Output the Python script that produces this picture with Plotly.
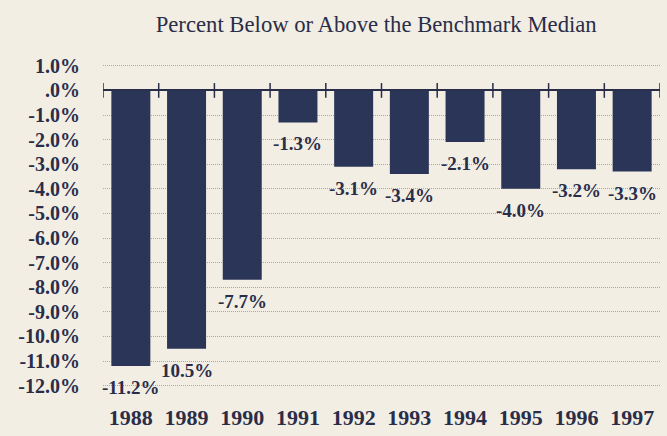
import plotly.graph_objects as go

years = ["1988", "1989", "1990", "1991", "1992", "1993", "1994", "1995", "1996", "1997"]
values = [-11.2, -10.5, -7.7, -1.3, -3.1, -3.4, -2.1, -4.0, -3.2, -3.3]
bar_labels = ["-11.2%", "10.5%", "-7.7%", "-1.3%", "-3.1%", "-3.4%", "-2.1%", "-4.0%", "-3.2%", "-3.3%"]
y_tick_vals = [1, 0, -1, -2, -3, -4, -5, -6, -7, -8, -9, -10, -11, -12]
y_tick_text = ["1.0%", ".0%", "-1.0%", "-2.0%", "-3.0%", "-4.0%", "-5.0%", "-6.0%",
               "-7.0%", "-8.0%", "-9.0%", "-10.0%", "-11.0%", "-12.0%"]

bg = "#f2eee4"
navy = "#2b3558"
text_col = "#2a2d48"
serif = "Liberation Serif, Times New Roman, serif"

xs = list(range(len(years)))

fig = go.Figure()
fig.add_trace(go.Bar(
    x=xs, y=values,
    marker=dict(color=navy, line=dict(width=0)),
    width=0.7,
    hoverinfo="skip",
))

# value labels below each bar end
for x, v, lab in zip(xs, values, bar_labels):
    fig.add_annotation(x=x, y=v, xref="x", yref="y", text=lab, showarrow=False,
                       yanchor="top", yshift=-9, xanchor="center",
                       font=dict(family=serif, size=19, color=text_col, weight="bold"))

# tick marks crossing the zero line at category boundaries
for i in range(len(years) + 1):
    fig.add_shape(type="line", xref="x", yref="y",
                  x0=i - 0.5, x1=i - 0.5, y0=-0.3, y1=0.3,
                  line=dict(color=text_col, width=1.5), layer="above")

fig.update_layout(
    width=667, height=436,
    margin=dict(l=103, r=7, t=56, b=43),
    paper_bgcolor=bg, plot_bgcolor=bg,
    showlegend=False,
    title=dict(text="Percent Below or Above the Benchmark Median",
               x=0.564, xanchor="center", y=0.945, yanchor="middle",
               font=dict(family=serif, size=22.7, color=text_col)),
    xaxis=dict(range=[-0.5, len(years) - 0.5], automargin=False,
               tickmode="array", tickvals=xs, ticktext=years,
               showgrid=False, showline=False, zeroline=False, ticks="",
               ticklabelstandoff=9,
               tickfont=dict(family=serif, size=22, color=text_col, weight="bold")),
    yaxis=dict(range=[-12.3, 1.4], automargin=False,
               tickmode="array", tickvals=y_tick_vals, ticktext=y_tick_text,
               showgrid=True, gridcolor="#a8a8a8", griddash="1px,1px", gridwidth=1,
               zeroline=True, zerolinecolor=text_col, zerolinewidth=2,
               showline=False, ticks="", ticklabelstandoff=22,
               tickfont=dict(family=serif, size=20, color=text_col, weight="bold")),
)

fig.write_html("out.html", config={"displayModeBar": False},
               post_script="document.body.style.margin='0';document.body.style.background='%s';" % bg)
